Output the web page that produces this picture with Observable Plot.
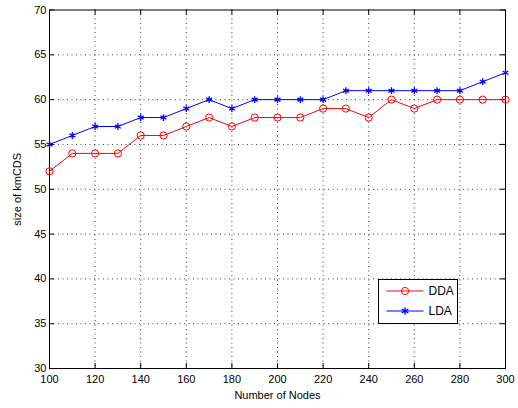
<!DOCTYPE html>
<html>
<head>
<meta charset="utf-8">
<script src="https://cdn.jsdelivr.net/npm/d3@7"></script>
<script src="https://cdn.jsdelivr.net/npm/@observablehq/plot@0.6"></script>
<style>
  html, body { margin: 0; padding: 0; background: #fff; }
  #chart { width: 518px; height: 408px; }
</style>
</head>
<body>
<div id="chart"></div>
<script>
const nodes = [100,110,120,130,140,150,160,170,180,190,200,210,220,230,240,250,260,270,280,290,300];
const dda   = [52,54,54,54,56,56,57,58,57,58,58,58,59,59,58,60,59,60,60,60,60];
const lda   = [55,56,57,57,58,58,59,60,59,60,60,60,60,61,61,61,61,61,61,62,63];
const xTicks = [100,120,140,160,180,200,220,240,260,280,300];
const yTicks = [30,35,40,45,50,55,60,65,70];
const seriesNames = ["DDA", "LDA"];
const seriesColors = ["#ff0000", "#0000ff"];

const rows = [];
nodes.forEach((n, i) => {
  rows.push({x: n, y: dda[i], s: "DDA"});
  rows.push({x: n, y: lda[i], s: "LDA"});
});
const ddaRows = rows.filter(d => d.s === "DDA");
const ldaRows = rows.filter(d => d.s === "LDA");

const font = "'Liberation Sans', Arial, Helvetica, sans-serif";
const grid = {stroke: "#000", strokeOpacity: 0.75, strokeDasharray: "1,3.5", strokeWidth: 1};

const plot = Plot.plot({
  width: 518,
  height: 408,
  marginLeft: 49,
  marginRight: 13,
  marginTop: 9.5,
  marginBottom: 40,
  style: {fontFamily: font, fontSize: "11px", color: "#000", background: "#fff"},
  x: {domain: [100, 300]},
  y: {domain: [30, 70]},
  marks: [
    Plot.gridX(xTicks.slice(1, -1), grid),
    Plot.gridY(yTicks.slice(1, -1), grid),
    Plot.axisX(xTicks, {anchor: "bottom", tickSize: 0, tickPadding: 7, label: "Number of Nodes", labelAnchor: "center", labelArrow: "none", labelOffset: 30, fontSize: 11}),
    Plot.axisY(yTicks, {anchor: "left", tickSize: 0, tickPadding: 3, label: "size of kmCDS", labelAnchor: "center", labelArrow: "none", labelOffset: 36, fontSize: 11}),
    Plot.ruleX(xTicks, {x: d => d, y1: 30, y2: 30.56, stroke: "#000"}),
    Plot.ruleX(xTicks, {x: d => d, y1: 70, y2: 69.44, stroke: "#000"}),
    Plot.ruleY(yTicks, {y: d => d, x1: 100, x2: 102.2, stroke: "#000"}),
    Plot.ruleY(yTicks, {y: d => d, x1: 300, x2: 297.8, stroke: "#000"}),
    Plot.frame({stroke: "#000", strokeWidth: 1}),
    Plot.line(ddaRows, {x: "x", y: "y", stroke: seriesColors[0], strokeWidth: 1}),
    Plot.dot(ddaRows, {x: "x", y: "y", stroke: seriesColors[0], fill: "none", r: 3.6, strokeWidth: 1}),
    Plot.line(ldaRows, {x: "x", y: "y", stroke: seriesColors[1], strokeWidth: 1}),
    Plot.dot(ldaRows, {x: "x", y: "y", stroke: seriesColors[1], symbol: "asterisk", r: 3.2, strokeWidth: 1.3})
  ]
});
document.getElementById("chart").appendChild(plot);

// legend inside the plot area
const svg = d3.select(plot);
const lg = svg.append("g").attr("transform", "translate(378.5,279.5)");
lg.append("rect").attr("width", 79).attr("height", 44).attr("fill", "#fff").attr("stroke", "#000").attr("stroke-width", 1);
seriesNames.forEach((name, i) => {
  const yy = 11.5 + i * 20;
  lg.append("line").attr("x1", 8).attr("x2", 45).attr("y1", yy).attr("y2", yy).attr("stroke", seriesColors[i]).attr("stroke-width", 1);
  if (i === 0) {
    lg.append("circle").attr("cx", 26.5).attr("cy", yy).attr("r", 3.6).attr("fill", "none").attr("stroke", seriesColors[i]);
  } else {
    lg.append("path").attr("transform", `translate(26.5,${yy})`)
      .attr("d", d3.symbol(d3.symbolAsterisk, 40)()).attr("stroke", seriesColors[i]).attr("stroke-width", 1.3).attr("fill", "none");
  }
  lg.append("text").attr("x", 50).attr("y", yy).attr("dy", "0.35em")
    .attr("text-anchor", "start").attr("font-size", 12).attr("font-family", font).attr("fill", "#000").text(name);
});
</script>
</body>
</html>
